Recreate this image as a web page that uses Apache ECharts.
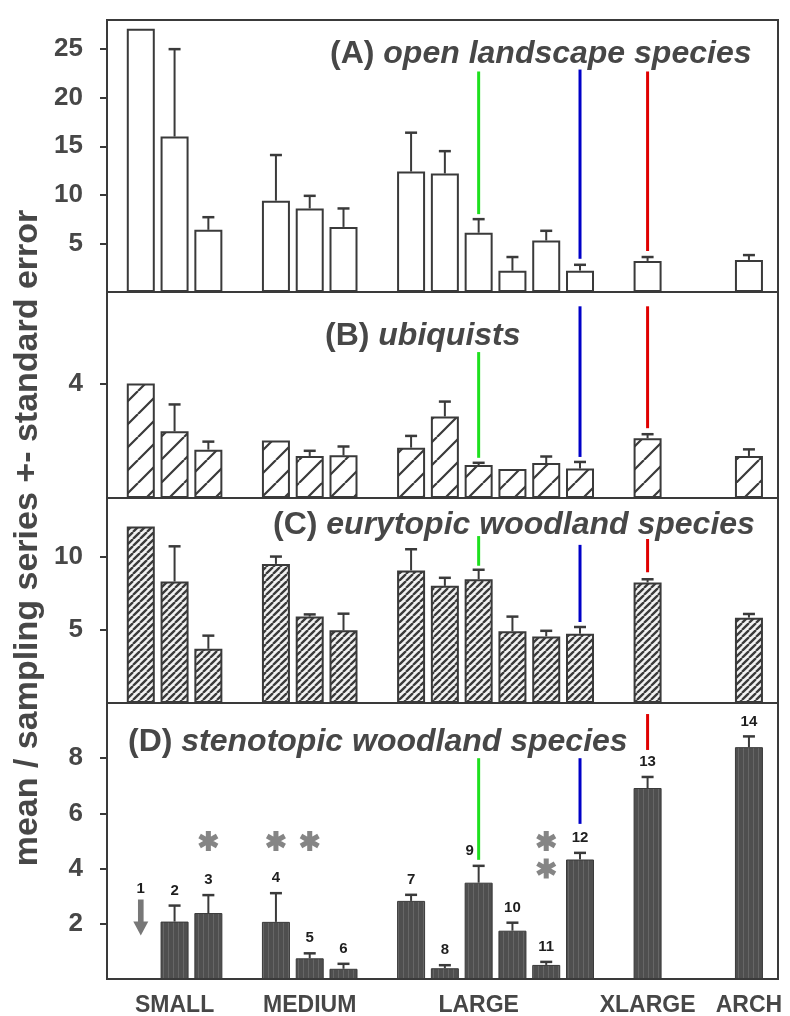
<!DOCTYPE html>
<html>
<head>
<meta charset="utf-8">
<script src="https://cdn.jsdelivr.net/npm/echarts@6/dist/echarts.min.js"></script>
<style>
  html, body { margin: 0; padding: 0; background: #ffffff; }
  #chart { width: 790px; height: 1016px; }
</style>
</head>
<body>
<div id="chart"></div>
<script>
// ---- data -----------------------------------------------------------------
// Order of the shared x axis; blank entries are spacer slots between size classes.
const axisSlots = ['1', '2', '3', '', '4', '5', '6', '', '7', '8', '9', '10', '11', '12', '', '13', '', '', '14'];
const sites = ['1', '2', '3', '4', '5', '6', '7', '8', '9', '10', '11', '12', '13', '14'];
const sizeClasses = ['SMALL', 'MEDIUM', 'LARGE', 'XLARGE', 'ARCH'];
const classSites = [['1', '2', '3'], ['4', '5', '6'], ['7', '8', '9', '10', '11', '12'], ['13'], ['14']];

// (A) open landscape species
const openMean = [27.1, 16.0, 6.4, 9.4, 8.6, 6.7, 12.4, 12.2, 6.1, 2.2, 5.3, 2.2, 3.2, 3.3];
const openSE   = [0, 9.0, 1.3, 4.7, 1.3, 1.9, 4.0, 2.3, 1.4, 1.4, 1.0, 0.6, 0.4, 0.5];
// (B) ubiquists
const ubiqMean = [4.0, 2.33, 1.69, 2.01, 1.47, 1.49, 1.76, 2.85, 1.15, 1.01, 1.22, 1.03, 2.09, 1.47];
const ubiqSE   = [0, 0.94, 0.28, 0, 0.18, 0.31, 0.41, 0.52, 0.08, 0, 0.23, 0.23, 0.14, 0.23];
// (C) eurytopic woodland species
const euryMean = [12.05, 8.3, 3.7, 9.5, 5.9, 4.96, 9.05, 8.0, 8.45, 4.9, 4.55, 4.73, 8.23, 5.83];
const eurySE   = [0, 2.4, 0.9, 0.5, 0.15, 1.14, 1.45, 0.55, 0.65, 1.0, 0.38, 0.46, 0.22, 0.25];
// (D) stenotopic woodland species (site 1: none recorded)
const stenoMean = [0, 2.08, 2.39, 2.07, 0.75, 0.37, 2.83, 0.39, 3.49, 1.75, 0.51, 4.33, 6.92, 8.4];
const stenoSE   = [0, 0.58, 0.65, 1.04, 0.18, 0.18, 0.22, 0.11, 0.61, 0.29, 0.11, 0.24, 0.4, 0.39];
// number of significance asterisks per site in (D)
const stenoStars = [0, 0, 1, 1, 1, 0, 0, 0, 0, 0, 2, 0, 0, 0];

// y tick labels per panel
const openTicks = [5, 10, 15, 20, 25];
const ubiqTicks = [4];
const euryTicks = [5, 10];
const stenoTicks = [2, 4, 6, 8];

// sites joined by coloured guide lines across the panels
const linkedSites = ['9', '12', '13'];

// ---- styling ----------------------------------------------------------------
const INK = '#3a3a3a';
const TEXT = '#474747';
const FONT = '"Liberation Sans", Arial, sans-serif';
const GUIDE_COLORS = ['#1ee01e', '#0000c8', '#e00000'];

function hatch(step, width, color, bg) {
  const c = document.createElement('canvas');
  c.width = c.height = step;
  const g = c.getContext('2d');
  g.fillStyle = bg;
  g.fillRect(0, 0, step, step);
  g.strokeStyle = color;
  g.lineWidth = width;
  g.beginPath();
  for (const k of [-1, 0, 1]) {
    g.moveTo(k * step, step);
    g.lineTo(k * step + step, 0);
  }
  g.stroke();
  return c;
}

function stripes() {
  const c = document.createElement('canvas');
  c.width = 5; c.height = 4;
  const g = c.getContext('2d');
  g.fillStyle = '#4f4f4f';
  g.fillRect(0, 0, 5, 4);
  g.fillStyle = '#666666';
  g.fillRect(3, 0, 1, 4);
  return c;
}

function asteriskPath() {
  let d = '';
  [90, 30, 150].forEach(a => {
    const r = a * Math.PI / 180;
    const ux = Math.cos(r), uy = Math.sin(r);
    const px = -uy, py = ux;
    const L = 10, W = 2.5;
    const pts = [
      [ux * L + px * W, uy * L + py * W],
      [ux * L - px * W, uy * L - py * W],
      [-ux * L - px * W, -uy * L - py * W],
      [-ux * L + px * W, -uy * L + py * W]
    ];
    d += 'M' + pts.map(p => (p[0] + 10).toFixed(2) + ',' + (p[1] + 10).toFixed(2)).join(' L') + ' Z ';
  });
  return 'path://' + d;
}

const panels = [
  { label: '(A)', title: 'open landscape species', mean: openMean, se: openSE, ticks: openTicks,
    top: 20, height: 272, max: 28, fill: '#ffffff', border: 2,
    titleX: 330, titleY: 54, guideTop: [22.7, 22.9, 22.7], guideGap: [5, 6, 6] },
  { label: '(B)', title: 'ubiquists', mean: ubiqMean, se: ubiqSE, ticks: ubiqTicks,
    top: 292, height: 206, max: 7.2, fill: { image: hatch(23, 2.2, INK, '#ffffff'), repeat: 'repeat' }, border: 2,
    titleX: 325, titleY: 336, guideTop: [5.1, 6.7, 6.7], guideGap: [5, 5, 6] },
  { label: '(C)', title: 'eurytopic woodland species', mean: euryMean, se: eurySE, ticks: euryTicks,
    top: 498, height: 205, max: 14, fill: { image: hatch(7, 2.3, '#3a3a3a', '#f2f2f2'), repeat: 'repeat' }, border: 2,
    titleX: 273, titleY: 525, guideTop: [11.4, 10.8, 11.2], guideGap: [4, 5, 7] },
  { label: '(D)', title: 'stenotopic woodland species', mean: stenoMean, se: stenoSE, ticks: stenoTicks,
    top: 703, height: 276, max: 10, fill: { image: stripes(), repeat: 'repeat' }, border: 1,
    titleX: 128, titleY: 742, guideTop: [8.0, 8.0, 9.6], guideGap: [6, 29, 27] }
];

const slotOf = s => axisSlots.indexOf(s);
const ARROW_LEVEL = 2.23;
const labelShift = { '9': -9 };

// ---- option -------------------------------------------------------------------
const grid = [], xAxis = [], yAxis = [], series = [], graphic = [];

panels.forEach((p, gi) => {
  grid.push({ left: 107, right: 12, top: p.top, height: p.height, show: true,
    borderColor: INK, borderWidth: 2, backgroundColor: 'transparent' });
  xAxis.push({ type: 'value', gridIndex: gi, min: -1, max: 18.86, show: false });
  yAxis.push({
    type: 'value', gridIndex: gi, min: 0, max: p.max, splitLine: { show: false },
    axisLine: { show: true, onZero: false, lineStyle: { color: INK, width: 2 } },
    axisTick: { show: true, inside: false, length: 7, customValues: p.ticks, lineStyle: { color: INK, width: 2 } },
    axisLabel: { customValues: p.ticks, margin: 24, color: TEXT, fontSize: 26, fontWeight: 'bold', fontFamily: FONT }
  });

  // bars
  series.push({
    type: 'bar', xAxisIndex: gi, yAxisIndex: gi, barWidth: 28, z: 2, animation: false,
    itemStyle: { color: p.fill, borderColor: INK, borderWidth: p.border },
    data: sites.map((s, i) => ({
      value: [slotOf(s), p.mean[i]],
      itemStyle: p.mean[i] === 0 ? { borderWidth: 0 } : undefined
    }))
  });

  // standard error whiskers
  series.push({
    type: 'custom', xAxisIndex: gi, yAxisIndex: gi, z: 3, animation: false,
    data: sites.map((s, i) => [slotOf(s), p.mean[i], p.mean[i] + p.se[i]]).filter((d, i) => p.se[i] > 0),
    encode: { x: 0, y: [1, 2] },
    renderItem(params, api) {
      const x = api.value(0);
      const p0 = api.coord([x, api.value(1)]);
      const p1 = api.coord([x, api.value(2)]);
      return { type: 'group', children: [
        { type: 'line', shape: { x1: p0[0], y1: p0[1], x2: p1[0], y2: p1[1] }, style: { stroke: INK, lineWidth: 2 } },
        { type: 'line', shape: { x1: p1[0] - 6, y1: p1[1], x2: p1[0] + 6, y2: p1[1] }, style: { stroke: INK, lineWidth: 2.5 } }
      ] };
    }
  });

  // coloured guide lines above the linked sites
  series.push({
    type: 'custom', xAxisIndex: gi, yAxisIndex: gi, z: 4, animation: false,
    data: linkedSites.map((s, k) => {
      const i = sites.indexOf(s);
      return [slotOf(s), p.guideTop[k], p.mean[i] + p.se[i], k];
    }),
    encode: { x: 0, y: [1, 2] },
    renderItem(params, api) {
      const x = api.value(0), k = api.value(3);
      const a = api.coord([x, api.value(1)]);
      const b = api.coord([x, api.value(2)]);
      return { type: 'line', shape: { x1: a[0], y1: a[1], x2: b[0], y2: b[1] - p.guideGap[k] },
        style: { stroke: GUIDE_COLORS[k], lineWidth: 3 } };
    }
  });

  // panel heading
  graphic.push({
    type: 'text', x: p.titleX, y: p.titleY, z: 10,
    style: {
      text: '{n|' + p.label + '} {t|' + p.title + '}',
      verticalAlign: 'middle', fill: TEXT,
      font: 'bold 32px ' + FONT,
      rich: {
        n: { fontSize: 32, fontWeight: 'bold', fontFamily: FONT, fill: TEXT },
        t: { fontSize: 32, fontWeight: 'bold', fontStyle: 'italic', fontFamily: FONT, fill: TEXT }
      }
    }
  });
});

// (D) extras: site numbers, "none recorded" arrow, asterisks, size-class labels
series.push({
  type: 'custom', xAxisIndex: 3, yAxisIndex: 3, z: 6, animation: false, clip: false,
  data: sites.map((s, i) => [slotOf(s), stenoMean[i], stenoMean[i] + stenoSE[i], i]),
  encode: { x: 0, y: [1, 2] },
  renderItem(params, api) {
    const x = api.value(0), i = api.value(3);
    let px, py;
    if (api.value(1) === 0) {
      const a = api.coord([x, ARROW_LEVEL]);
      px = a[0]; py = a[1] - 18 - 11;
    } else {
      const e = api.coord([x, api.value(2)]);
      px = e[0]; py = e[1] - 15;
    }
    px += labelShift[sites[i]] || 0;
    return { type: 'text', x: px, y: py, style: {
      text: sites[i], align: 'center', verticalAlign: 'middle',
      fontSize: 15, fontWeight: 'bold', fontFamily: FONT, fill: '#1e1e1e' } };
  }
});

series.push({
  type: 'scatter', xAxisIndex: 3, yAxisIndex: 3, z: 6, animation: false,
  symbol: 'path://M5,0 L11,0 L11,22 L16,22 L8,36 L0,22 L5,22 Z', symbolSize: [15, 36],
  symbolKeepAspect: false,
  itemStyle: { color: '#555555' },
  data: sites.filter((s, i) => stenoMean[i] === 0).map(s => [slotOf(s), ARROW_LEVEL])
});

const starData = [];
stenoStars.forEach((n, i) => {
  for (let k = 0; k < n; k++) starData.push([slotOf(sites[i]), 5 - k]);
});
series.push({
  type: 'scatter', xAxisIndex: 3, yAxisIndex: 3, z: 6, animation: false,
  symbol: asteriskPath(), symbolSize: 20, itemStyle: { color: '#666666' },
  data: starData
});

series.push({
  type: 'custom', xAxisIndex: 3, yAxisIndex: 3, z: 6, animation: false, clip: false,
  data: classSites.map((list, k) => [slotOf(list[Math.floor((list.length - 1) / 2)]), 0, k]),
  encode: { x: 0, y: 1 },
  renderItem(params, api) {
    const p = api.coord([api.value(0), 0]);
    return { type: 'text', x: p[0], y: p[1] + 27, style: {
      text: sizeClasses[api.value(2)], align: 'center', verticalAlign: 'middle',
      fontSize: 23, fontWeight: 'bold', fontFamily: FONT, fill: TEXT } };
  }
});

// shared y-axis caption
graphic.push({
  type: 'text', x: 28, y: 538, rotation: Math.PI / 2, z: 10,
  style: { text: 'mean / sampling series +- standard error', align: 'center', verticalAlign: 'middle',
    fontSize: 34, fontWeight: 'bold', fontFamily: FONT, fill: TEXT }
});

const chart = echarts.init(document.getElementById('chart'), null, { renderer: 'canvas' });
chart.setOption({ backgroundColor: '#ffffff', animation: false, grid, xAxis, yAxis, series, graphic });
</script>
</body>
</html>
